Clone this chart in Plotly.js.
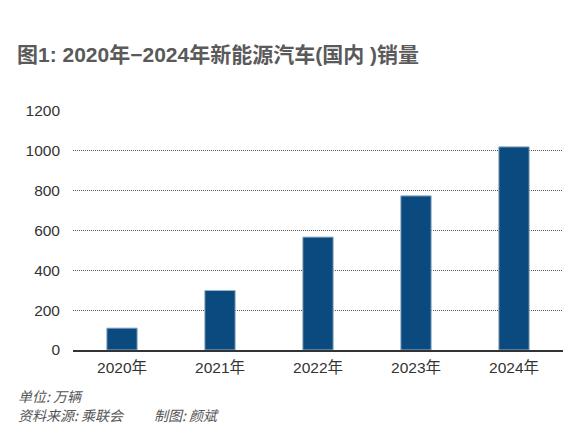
<!DOCTYPE html>
<html><head><meta charset="utf-8">
<script src="https://cdn.plot.ly/plotly-3.0.1.min.js"></script>
<style>html,body{margin:0;padding:0;background:#fff;}#chart{width:576px;height:445px;}</style>
</head><body><div id="chart"></div>
<script>
const categories = ["2020年", "2021年", "2022年", "2023年", "2024年"];
const sales = [110, 299, 567, 774, 1020];
const yTicks = [0, 200, 400, 600, 800, 1000, 1200];

const W = 576, H = 445, L = 73, R = 13, T = 111, B = 95;
const pw = W - L - R, ph = H - T - B;
const px = x => (x - L) / pw;
const py = y => (H - B - y) / ph;
const SANS = '"Liberation Sans", Arial, "Noto Sans CJK SC", sans-serif';
const CJK = '"Noto Sans CJK SC", sans-serif';

const trace = {
  type: 'bar', x: categories, y: sales,
  marker: {color: '#0b4a7e', line: {color: '#9fb6cc', width: 1}},
  hoverinfo: 'none'
};
const layout = {
  width: W, height: H,
  margin: {l: L, r: R, t: T, b: B},
  paper_bgcolor: '#fff', plot_bgcolor: '#fff',
  bargap: 0.69,
  showlegend: false,
  font: {family: SANS, color: '#333'},
  title: {
    text: '<b>图1: 2020年−2024年新能源汽车(国内 )销量</b>',
    font: {family: SANS, size: 21, color: '#5a5a5a'},
    x: 17 / W, xanchor: 'left', xref: 'container',
    y: 1 - 55 / H, yanchor: 'middle', yref: 'container'
  },
  xaxis: {
    type: 'category', showgrid: false, zeroline: false,
    showline: true, linecolor: '#333', linewidth: 1.5,
    ticks: '', tickfont: {size: 15.5, color: '#333', family: SANS},
    ticklabelstandoff: 3
  },
  yaxis: {
    range: [0, 1200], tickvals: yTicks, ticktext: yTicks.map(String),
    showgrid: true, gridcolor: '#555', gridwidth: 1, griddash: '1px,1px',
    zeroline: false, showline: false, ticks: '',
    tickfont: {size: 15.5, color: '#333', family: SANS},
    ticklabelstandoff: 12
  },
  annotations: [
    {text: '<i>单位: 万辆</i>', xref: 'paper', yref: 'paper', x: px(16), y: py(396),
     xanchor: 'left', yanchor: 'middle', showarrow: false,
     font: {family: CJK, size: 14, color: '#555'}},
    {text: '<i>资料来源: 乘联会</i>', xref: 'paper', yref: 'paper', x: px(16), y: py(415),
     xanchor: 'left', yanchor: 'middle', showarrow: false,
     font: {family: CJK, size: 14, color: '#555'}},
    {text: '<i>制图: 颜斌</i>', xref: 'paper', yref: 'paper', x: px(152), y: py(415),
     xanchor: 'left', yanchor: 'middle', showarrow: false,
     font: {family: CJK, size: 14, color: '#555'}}
  ]
};
Plotly.newPlot('chart', [trace], layout, {staticPlot: true, displayModeBar: false});
</script></body></html>
